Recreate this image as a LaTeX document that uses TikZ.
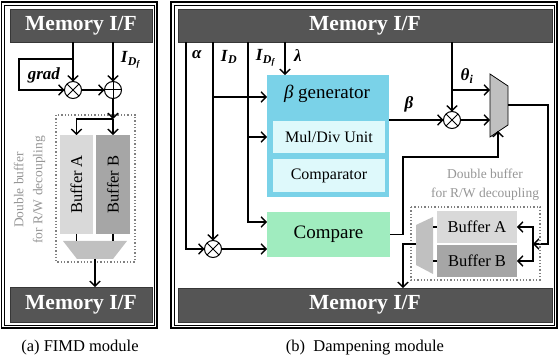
\documentclass[tikz,border=0pt]{standalone}
\usepackage{fontspec}
\setmainfont{Liberation Serif}
\usepackage{amsmath}
\usetikzlibrary{arrows.meta,calc}
\newcommand\bivar[1]{\textbf{\textit{#1}}}
\definecolor{memfill}{RGB}{85,85,85}
\definecolor{memdraw}{RGB}{55,55,55}
\definecolor{skyb}{RGB}{122,210,232}
\definecolor{cyanl}{RGB}{222,249,251}
\definecolor{greenl}{RGB}{160,236,191}
\definecolor{bufa}{RGB}{217,217,217}
\definecolor{bufb}{RGB}{166,166,166}
\definecolor{muxg}{RGB}{192,192,192}
\definecolor{txtg}{RGB}{150,150,150}
\begin{document}
\begin{tikzpicture}[x=1pt,y=-1pt,line width=1.4pt,
  every node/.style={outer sep=0pt,inner sep=0pt},
  arr/.style={-{Straight Barb[length=5pt,width=10.5pt]}},
  mem/.style={draw=memdraw,line width=0.8pt,fill=memfill,text=white,
    font=\fontsize{21.5}{24}\selectfont\bfseries},
  opc/.style={circle,draw,line width=1pt,minimum size=17pt,fill=white},
  lbl/.style={font=\fontsize{17}{19}\selectfont},
  dbl/.style={draw=gray,dotted,line width=1.3pt},
  dtext/.style={text=txtg,align=center,font=\fontsize{13.5}{19}\selectfont},
  buft/.style={font=\fontsize{16.5}{18}\selectfont}]
\useasboundingbox (0,0) rectangle (558,363);

% ---------------- Left panel ----------------
\draw[line width=1.5pt] (1.5,2) rectangle (157,328);
\draw[line width=0.7pt] (4.5,5) rectangle (154,325);
\node[mem,minimum width=142pt,minimum height=33pt,anchor=north west] (memA) at (10,9) {Memory I/F};
\node[mem,minimum width=142pt,minimum height=35pt,anchor=north west] (memA2) at (10,287) {Memory I/F};

\node[opc] (tA) at (73,90) {};
\draw[line width=1pt] (tA.north east) -- (tA.south west) (tA.north west) -- (tA.south east);
\node[opc] (pA) at (113,90) {};
\draw[line width=1pt] (pA.north) -- (pA.south) (pA.west) -- (pA.east);

\coordinate (g1) at (73,59);
\coordinate (g2) at (19,59);
\draw[arr] (tA |- memA.south) -- (tA.north);
\draw[arr] (pA |- memA.south) -- (pA.north);
\draw[arr] (g1) -- (g2) |- (tA.west);
\draw[arr] (tA.east) -- (pA.west);
\node[lbl] at (44,75) {\bivar{grad}};
\node[lbl] at (131,60) {$\bivar{I}_{\bivar{D}_{\bivar{f}}}$};

\draw[dbl] (56,115) rectangle (135,262);
\node[fill=bufa,minimum width=33pt,minimum height=99pt] (bufA) at (76.5,184.5) {};
\node[fill=bufb,minimum width=34pt,minimum height=99pt] (bufB) at (113,184.5) {};
\node[buft,rotate=90] at (bufA) {Buffer A};
\node[buft,rotate=90] at (bufB) {Buffer B};

\coordinate (sA) at (113,119);
\draw[arr] (pA.south) -- (sA);
\draw[arr] (sA) -- (bufB.north);
\draw[arr] (sA) -| (bufA.north);

\fill[muxg] (63,241) -- (127,241) -- (113,259) -- (77,259) -- cycle;
\coordinate (muxA) at (95,259);
\draw[line width=1.2pt] (bufA.south) -- (76.5,241) (bufB.south) -- (113,241);
\draw[arr] (muxA) -- (muxA |- memA2.north);

\node[dtext,rotate=90] at (29.5,190) {Double buffer\\for R/W decoupling};

\node[font=\fontsize{16.5}{18}\selectfont] at (80,348) {(a) FIMD module};

% ---------------- Right panel ----------------
\draw[line width=1.5pt] (171,2) rectangle (557,328);
\draw[line width=0.7pt] (174,5) rectangle (554,325);
\node[mem,minimum width=374pt,minimum height=33pt,anchor=north west] (memB) at (178,9) {Memory I/F};
\node[mem,minimum width=374pt,minimum height=34pt,anchor=north west] (memB2) at (178,288) {Memory I/F};

% beta generator
\node[fill=skyb,minimum width=122pt,minimum height=122pt,anchor=north west] (bgen) at (267,75) {};
\node[font=\fontsize{19}{21}\selectfont] at (327,94) {\textit{β} generator};
\node[fill=cyanl,minimum width=112pt,minimum height=32pt,anchor=north west,font=\fontsize{16}{18}\selectfont] (mdu) at (273,121) {Mul/Div Unit};
\node[fill=cyanl,minimum width=112pt,minimum height=33pt,anchor=north west,font=\fontsize{16}{18}\selectfont] (cmpr) at (273,159) {Comparator};

% compare
\node[fill=greenl,minimum width=123pt,minimum height=45pt,anchor=north west,font=\fontsize{19}{21}\selectfont] (cmp) at (267,212) {Compare};

% inputs
\node[opc] (tB) at (213,249) {};
\draw[line width=1pt] (tB.north east) -- (tB.south west) (tB.north west) -- (tB.south east);
\coordinate (aTop) at (186,42);
\coordinate (dfTop) at (248,42);
\draw[arr] (aTop) |- (tB.west);
\draw[arr] (tB |- memB.south) -- (tB.north);
\draw[arr] (213,97) -- (bgen.west |- 0,97);
\draw[arr] (dfTop) |- (cmp.west |- 0,222);
\draw[arr] (248,137) -- (bgen.west |- 0,137);
\draw[arr] (285,42) -- (bgen.north -| 285,0);
\draw[arr] (tB.east) -- (cmp.west |- tB);

\node[lbl] at (197,55) {\bivar{α}};
\node[lbl] at (229,57) {$\bivar{I}_{\bivar{D}}$};
\node[lbl] at (266,58) {$\bivar{I}_{\bivar{D}_{\bivar{f}}}$};
\node[lbl] at (298,56) {\bivar{λ}};

% beta path
\node[opc] (tC) at (452,120) {};
\draw[line width=1pt] (tC.north east) -- (tC.south west) (tC.north west) -- (tC.south east);
\draw[arr] (bgen.east |- tC) -- (tC.west);
\draw[arr] (tC |- memB.south) -- (tC.north);
\draw[arr] (452,90) -- (490,90);
\draw[arr] (tC.east) -- (490,120);
\node[lbl] at (409,104) {\bivar{β}};
\node[lbl] at (467,76) {$\bivar{θ}_{\bivar{i}}$};

% big mux
\draw[fill=muxg,line width=0.8pt] (490,74) -- (508,86) -- (508,125) -- (490,137) -- cycle;
\coordinate (muxOut) at (508,105);
\coordinate (bk) at (533,244);
\draw[arr] (muxOut) -| (548,244) -- (bk);

% compare to mux
\draw[arr] (cmp.east) -- (403,234.5) -- (403,157) -| (498,131);

% right double buffer
\draw[dbl] (411,207) rectangle (540,280);
\node[dtext] at (485,185) {Double buffer\\for R/W decoupling};
\node[fill=bufa,minimum width=80pt,minimum height=32pt,anchor=north west,buft] (rA) at (437,211) {Buffer A};
\node[fill=bufb,minimum width=80pt,minimum height=32pt,anchor=north west,buft] (rB) at (437,245) {Buffer B};
\draw[arr] (bk) |- (rA.east);
\draw[arr] (bk) |- (rB.east);
\fill[muxg] (416,225) -- (433,217) -- (433,274) -- (416,265) -- cycle;
\draw[line width=1.2pt] (433,227) -- (rA.west) (433,261) -- (rB.west);
\coordinate (muxB) at (416,244);
\coordinate (mbL) at (403,244);
\draw[arr] (muxB) -- (mbL) -- (mbL |- memB2.north);

\node[font=\fontsize{16.5}{18}\selectfont] at (365,348) {(b)\ \ Dampening module};
\end{tikzpicture}
\end{document}
